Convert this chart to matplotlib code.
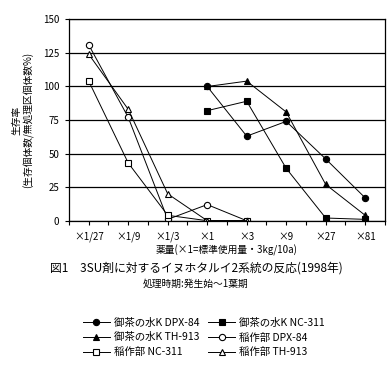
import matplotlib
matplotlib.use("Agg")
import matplotlib.pyplot as plt
import numpy as np

plt.rcParams['font.family'] = ['Noto Sans CJK JP', 'DejaVu Sans']

categories = ["×1/27", "×1/9", "×1/3", "×1", "×3", "×9", "×27", "×81"]
yticks = [0, 25, 50, 75, 100, 125, 150]

# 御茶の水K series (from x1 to x81)
ocha_dpx = [100, 63, 74, 46, 17]
ocha_nc = [82, 89, 39, 2, 1]
ocha_th = [100, 104, 81, 27, 4]
# 稲作部 series (from x1/27 to x3)
ina_dpx = [131, 77, 1, 12, 0]
ina_nc = [104, 43, 4, 0, 0]
ina_th = [124, 83, 20, 0, 0]

fig = plt.figure(figsize=(3.92, 3.66), dpi=100)
ax = fig.add_axes([0.176, 0.397, 0.806, 0.55])

x_all = np.arange(len(categories))
x_ocha = x_all[3:8]
x_ina = x_all[0:5]

kw = dict(color='black', lw=0.7, markersize=4.5, markeredgewidth=0.8)
h1, = ax.plot(x_ocha, ocha_dpx, marker='o', mfc='black', label='御茶の水K DPX-84', **kw)
h2, = ax.plot(x_ocha, ocha_nc, marker='s', mfc='black', label='御茶の水K NC-311', **kw)
h3, = ax.plot(x_ocha, ocha_th, marker='^', mfc='black', label='御茶の水K TH-913', **kw)
h4, = ax.plot(x_ina, ina_dpx, marker='o', mfc='white', label='稲作部 DPX-84', **kw)
h5, = ax.plot(x_ina, ina_nc, marker='s', mfc='white', label='稲作部 NC-311', **kw)
h6, = ax.plot(x_ina, ina_th, marker='^', mfc='white', label='稲作部 TH-913', **kw)

ax.set_xlim(-0.5, len(categories) - 0.5)
ax.set_ylim(0, 150)
ax.set_yticks(yticks)
ax.set_yticklabels([str(v) for v in yticks], fontsize=7)
ax.set_xticks(x_all)
ax.set_xticklabels(categories, fontsize=7)
ax.set_xticks(np.arange(-0.5, len(categories), 1.0), minor=True)
ax.tick_params(axis='x', which='both', direction='out', length=3, width=0.8, pad=5)
ax.tick_params(axis='y', direction='out', length=3, width=0.8, pad=4)
ax.yaxis.grid(True, color='black', lw=0.9)
ax.set_axisbelow(True)
for s in ax.spines.values():
    s.set_linewidth(0.9)

ax.set_ylabel('生存率\n(生存個体数/無処理区個体数%)', fontsize=7, linespacing=1.2, labelpad=6)
ax.set_xlabel('薬量(×1=標準使用量・3kg/10a)', fontsize=7, labelpad=2)

fig.text(0.5, 0.268, '図1　3SU剤に対するイヌホタルイ2系統の反応(1998年)', ha='center', va='center', fontsize=8.5)
fig.text(0.5, 0.224, '処理時期:発生始～1葉期', ha='center', va='center', fontsize=7)

handles = [h1, h3, h5, h2, h4, h6]
fig.legend(handles=handles, labels=[h.get_label() for h in handles], ncol=2,
           loc='center', bbox_to_anchor=(0.52, 0.078), frameon=False, fontsize=7.5,
           handlelength=2.6, columnspacing=0.8, labelspacing=0.45, handletextpad=0.4)

fig.savefig('out.png', dpi=100)
